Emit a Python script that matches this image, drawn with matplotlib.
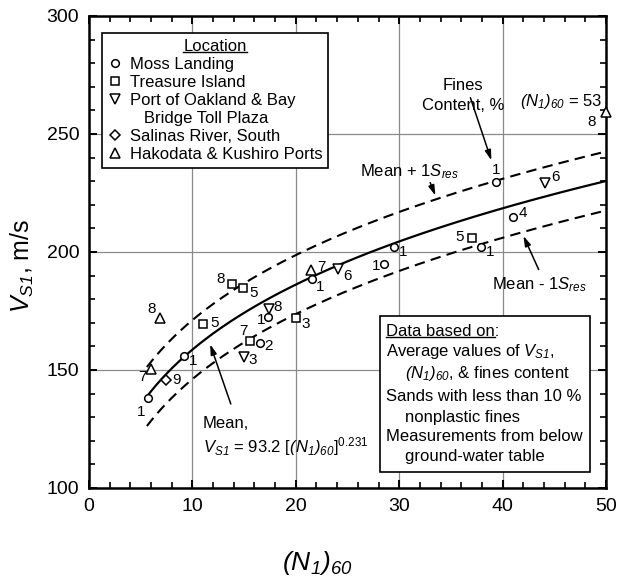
import matplotlib
matplotlib.use('Agg')
import matplotlib.pyplot as plt
from matplotlib.lines import Line2D
from matplotlib.patches import Rectangle
from matplotlib.ticker import MultipleLocator
import numpy as np

plt.rcParams['font.family'] = 'Liberation Sans'
plt.rcParams['mathtext.fontset'] = 'custom'
plt.rcParams['mathtext.rm'] = 'Liberation Sans'
plt.rcParams['mathtext.it'] = 'Liberation Sans:italic'
plt.rcParams['mathtext.sf'] = 'Liberation Sans:italic'   # fully italic, digits too
plt.rcParams['mathtext.bf'] = 'Liberation Sans:bold'

# data: (N1)60, Vs1 (m/s), fines content (%)
moss_n = [5.7, 9.2, 17.3, 16.5, 21.6, 28.5, 29.5, 37.9, 41.0, 39.4]
moss_vs = [138, 156, 172.6, 161.3, 188.6, 194.8, 202.2, 202.0, 215, 229.5]
moss_fc = ['1', '1', '1', '2', '1', '1', '1', '1', '4', '1']

treasure_n = [11.05, 13.8, 14.9, 15.6, 20.0, 37.0]
treasure_vs = [169.5, 186.3, 184.6, 162.4, 172.2, 205.8]
treasure_fc = ['5', '8', '5', '7', '3', '5']

oakland_n = [17.4, 15.0, 24.1, 44.1]
oakland_vs = [176, 155.4, 192.7, 229.4]
oakland_fc = ['8', '3', '6', '6']

salinas_n = [7.45]
salinas_vs = [145.8]
salinas_fc = ['9']

hakodata_n = [6.87, 6.0, 21.5, 53]
hakodata_vs = [172, 150.3, 192.4, 259.5]
hakodata_fc = ['8', '7', '7', '8']

# fitted relation shown on the chart
coef = 93.2
expo = 0.231
s_res = 12.5

# label offsets (pixels) for the fines content numbers
moss_off = [(-7, -14), (9, -5), (-7, -3), (9, -3), (8, -8), (-8, -2), (9, -5), (9, -5), (10, 4), (0, 12)]
treasure_off = [(11, 1), (-11, 5), (11, -5), (-7, 10), (10, -6), (-12, 1)]
oakland_off = [(9, 2), (9, -3), (9, -7), (11, 6)]
salinas_off = [(10, 0)]
hakodata_off = [(-8, 9), (-9, -8), (10, 3), (-14, -10)]

N160 = r'$\mathsf{(N_1)_{60}}$'
VS1 = r'$\mathsf{V_{S1}}$'
SRES = r'$\mathsf{S_{res}}$'

fig = plt.figure(figsize=(6.17, 5.79), dpi=100)
ax = fig.add_axes([89 / 617, 1 - 488 / 579, 517 / 617, 472 / 579])
ax.set_xlim(0, 50)
ax.set_ylim(100, 300)

ax.xaxis.set_major_locator(MultipleLocator(10))
ax.xaxis.set_minor_locator(MultipleLocator(2))
ax.yaxis.set_major_locator(MultipleLocator(50))
ax.yaxis.set_minor_locator(MultipleLocator(10))
ax.tick_params(which='both', direction='in', top=True, right=True)
ax.tick_params(which='major', length=6, width=1.4, labelsize=14, pad=7)
ax.tick_params(which='minor', length=4, width=1.2)
for sp in ax.spines.values():
    sp.set_linewidth(1.8)
ax.grid(which='major', color='#8a8a8a', lw=0.9, zorder=0)
ax.set_axisbelow(True)

# curves
n_curve = np.linspace(5.6, 50, 200)
vs_mean = coef * n_curve ** expo
ax.plot(n_curve, vs_mean, color='black', lw=1.6, zorder=3)
ax.plot(n_curve, vs_mean + s_res, color='black', lw=1.5, dashes=(5, 3), zorder=3)
ax.plot(n_curve, vs_mean - s_res, color='black', lw=1.5, dashes=(5, 3), zorder=3)

groups = [
    (moss_n, moss_vs, moss_fc, moss_off, 'o', 5.5),
    (treasure_n, treasure_vs, treasure_fc, treasure_off, 's', 5.5),
    (oakland_n, oakland_vs, oakland_fc, oakland_off, 'v', 6.5),
    (salinas_n, salinas_vs, salinas_fc, salinas_off, 'D', 5.5),
    (hakodata_n, hakodata_vs, hakodata_fc, hakodata_off, '^', 6.5),
]
for n, vs, fc, off, mk, ms in groups:
    n_plot = np.minimum(n, 50)
    ax.plot(n_plot, vs, ls='none', marker=mk, ms=ms, mfc='white', mec='black',
            mew=1.1, zorder=4, clip_on=False)
    for xi, yi, lab, (dx, dy) in zip(n_plot, vs, fc, off):
        ax.annotate(lab, (xi, yi), xytext=(dx, dy), textcoords='offset pixels',
                    ha='center', va='center', fontsize=11, zorder=4)

ax.annotate(N160 + ' = 53', (50, hakodata_vs[3]), xytext=(-4, 10),
            textcoords='offset pixels', ha='right', va='center', fontsize=12)

# legend
handles = [
    Line2D([], [], ls='none', marker='o', ms=5.5, mfc='white', mec='black', mew=1.1),
    Line2D([], [], ls='none', marker='s', ms=5.5, mfc='white', mec='black', mew=1.1),
    Line2D([], [], ls='none', marker='v', ms=6.5, mfc='white', mec='black', mew=1.1),
    Line2D([], [], ls='none'),
    Line2D([], [], ls='none', marker='D', ms=5.5, mfc='white', mec='black', mew=1.1),
    Line2D([], [], ls='none', marker='^', ms=6.5, mfc='white', mec='black', mew=1.1),
]
labels = ['Moss Landing', 'Treasure Island', 'Port of Oakland & Bay',
          '   Bridge Toll Plaza', 'Salinas River, South', 'Hakodata & Kushiro Ports']
leg = ax.legend(handles, labels, title='Location', loc='upper left',
                bbox_to_anchor=(102 / 617, 1 - 33 / 579), bbox_transform=fig.transFigure,
                fontsize=12, title_fontsize=12, frameon=True, fancybox=False,
                edgecolor='black', framealpha=1, borderaxespad=0, borderpad=0.35,
                handlelength=0.8, handletextpad=0.5, labelspacing=0.18)
leg.get_frame().set_linewidth(1.2)
leg.set_zorder(6)

arrow = dict(arrowstyle='-|>,head_length=0.6,head_width=0.18', color='black', lw=1.1)

# annotations
ax.text(36.2, 270.5, 'Fines', ha='center', va='center', fontsize=12)
ax.text(36.2, 262.0, 'Content, %', ha='center', va='center', fontsize=12)
ax.annotate('', xy=(39.0, 237.7), xytext=(36.8, 266.5), arrowprops=arrow)

ax.text(31.0, 234.0, 'Mean + 1' + SRES, ha='center', va='center', fontsize=12)
ax.annotate('', xy=(33.6, 222.8), xytext=(32.9, 230.5), arrowprops=arrow)

ax.text(43.6, 186.0, 'Mean - 1' + SRES, ha='center', va='center', fontsize=12)
ax.annotate('', xy=(41.9, 207.9), xytext=(43.6, 191.5), arrowprops=arrow)

ax.text(11.0, 127.5, 'Mean,', ha='left', va='center', fontsize=12)
ax.text(11.0, 117.5, VS1 + ' = 93.2 [' + N160 + r']$^{0.231}$',
        ha='left', va='center', fontsize=12)
ax.annotate('', xy=(11.63, 162.0), xytext=(13.8, 134.5), arrowprops=arrow)

# notes box
ax.add_patch(Rectangle((28.1, 106.9), 20.4, 66.0, facecolor='white', edgecolor='black',
                       lw=1.2, zorder=5))
note_lines = [
    (28.72, 166.2, 'Data based on:'),
    (28.72, 157.8, 'Average values of ' + VS1 + ','),
    (30.56, 148.6, N160 + ', & fines content'),
    (28.72, 138.7, 'Sands with less than 10 %'),
    (30.56, 130.0, 'nonplastic fines'),
    (28.72, 121.7, 'Measurements from below'),
    (30.56, 113.3, 'ground-water table'),
]
for x, y, s in note_lines:
    ax.text(x, y, s, ha='left', va='center', fontsize=12, zorder=6)
hidden = ax.text(28.72, 166.2, 'Data based on', ha='left', va='center', fontsize=12, alpha=0)

# axis labels
fig.text(22 / 617, 1 - 266 / 579, VS1 + ', m/s', rotation=90,
         ha='center', va='center', fontsize=18)
fig.text(317 / 617, 1 - 563 / 579, N160, ha='center', va='center', fontsize=19)

# underlines
fig.canvas.draw()
rend = fig.canvas.get_renderer()
inv = fig.transFigure.inverted()
for t in [leg.get_title(), hidden]:
    bb = t.get_window_extent(rend)
    (x0, y0), (x1, _) = inv.transform([(bb.x0, bb.y0 + 2), (bb.x1, bb.y0 + 2)])
    fig.add_artist(Line2D([x0, x1], [y0, y0], transform=fig.transFigure, color='black',
                          lw=1.0, zorder=10))

fig.savefig('out.png', dpi=100)
